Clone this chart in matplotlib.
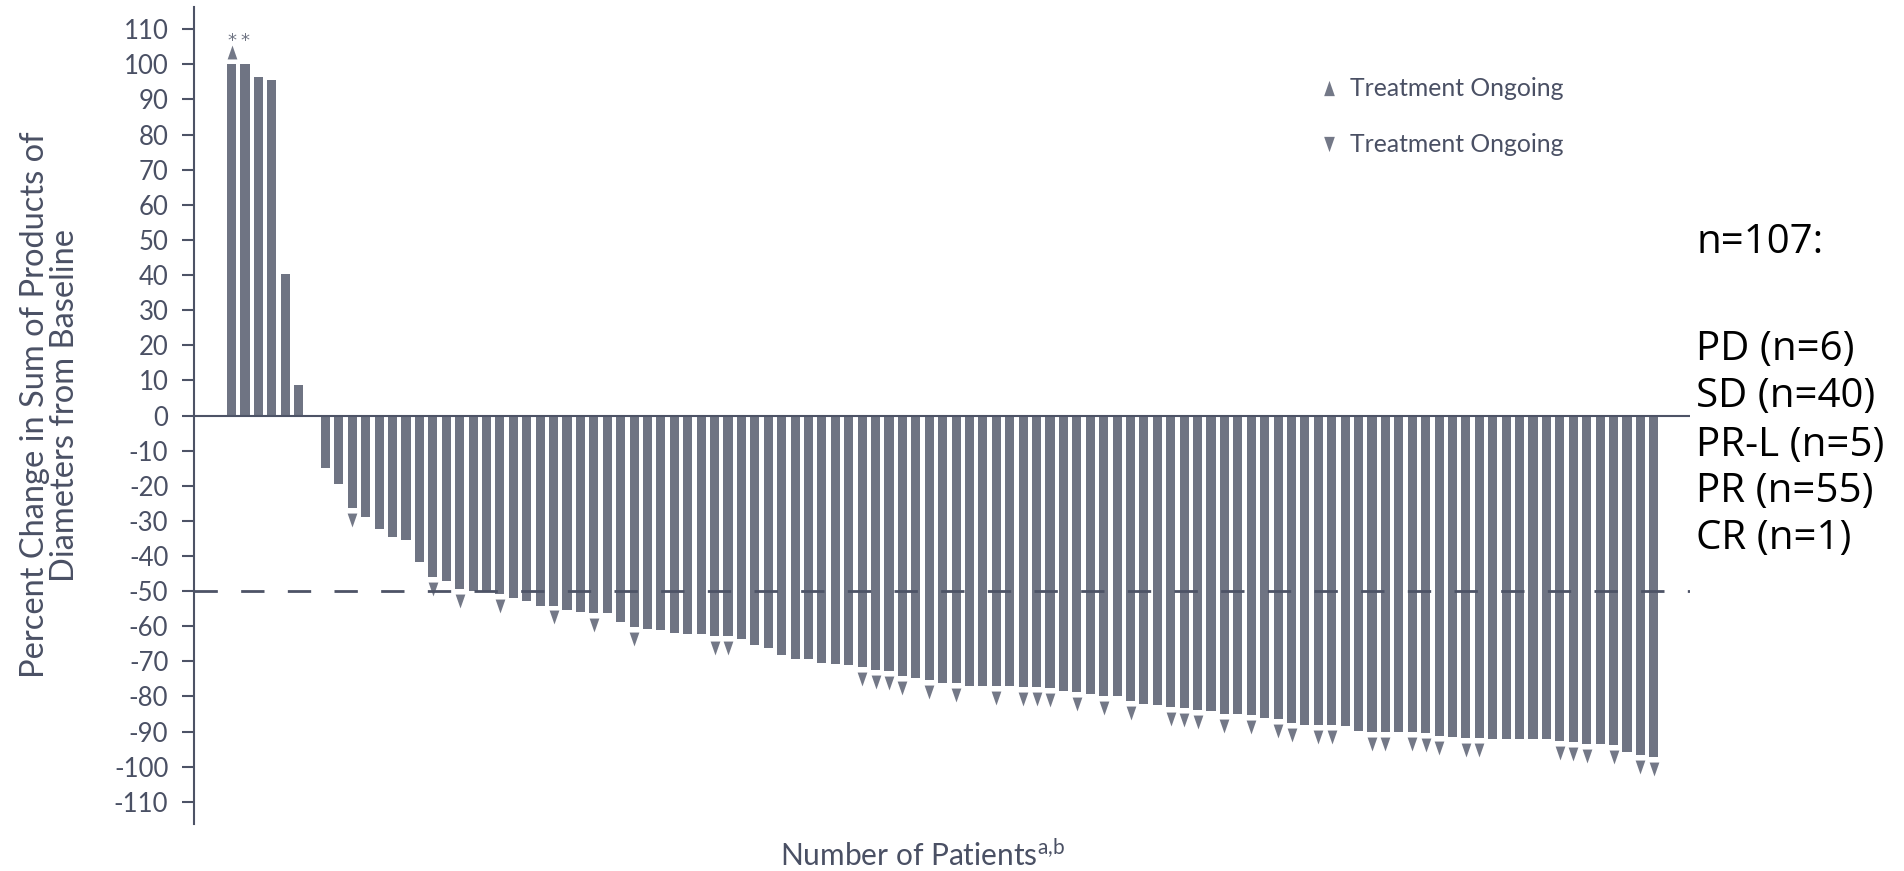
import matplotlib.pyplot as plt
import numpy as np

plt.rcParams['font.family'] = ['Lato', 'DejaVu Sans']
plt.rcParams['mathtext.fontset'] = 'custom'
plt.rcParams['mathtext.rm'] = 'Lato'

# 每位患者的肿瘤变化百分比 (按瀑布图顺序)
pct_change = [
    100, 100, 96.4, 95.6, 40.2, 8.6, 0,
    -15.0, -19.5, -26.4, -28.8, -32.4, -34.5, -35.4, -41.6, -45.9, -47.0,
    -49.5, -49.9, -50.0, -50.7, -51.9, -52.9, -54.1, -54.1, -55.3, -55.9,
    -56.2, -56.3, -58.8, -60.3, -60.8, -61.1, -61.9, -62.2, -62.2, -62.7,
    -62.7, -63.6, -65.4, -66.3, -68.3, -69.2, -69.2, -70.5, -70.7, -70.9,
    -71.7, -72.4, -72.8, -74.3, -74.7, -75.4, -76.2, -76.2, -76.9, -77.1,
    -77.1, -77.1, -77.3, -77.4, -77.6, -78.5, -78.8, -79.2, -80.0, -80.0,
    -81.2, -82.2, -82.3,
    -82.9, -83.2, -83.8, -84.1, -84.9, -85.1, -85.3, -86.0, -86.3, -87.6,
    -88.1, -88.1, -88.2, -88.4, -89.8, -90.0, -90.0, -90.0, -90.1, -90.3,
    -91.2, -91.4, -91.7, -91.7, -92.2, -92.2, -92.2, -92.2, -92.2, -92.8,
    -92.9, -93.4, -93.4, -93.8, -95.9, -96.6, -97.2,
]

# 治疗仍在进行 (1 = 有三角标记)
ongoing = [
    1, 0, 0, 0, 0, 0, 0,
    0, 0, 1, 0, 0, 0, 0, 0, 1, 0,
    1, 0, 0, 1, 0, 0, 0, 1, 0, 0,
    1, 0, 0, 1, 0, 0, 0, 0, 0, 1,
    1, 0, 0, 0, 0, 0, 0, 0, 0, 0,
    1, 1, 1, 1, 0, 1, 0, 1, 0, 0,
    1, 0, 1, 1, 1, 0, 1, 0, 1, 0,
    1, 0, 0,
    1, 1, 1, 0, 1, 0, 1, 0, 1, 1,
    0, 1, 1, 0, 0, 1, 1, 0, 1, 1,
    1, 0, 1, 1, 0, 0, 0, 0, 0, 1,
    1, 1, 0, 1, 0, 1, 1,
]

# 超过100%的患者 (标 **)
over_100 = [0, 1]

yticks = list(range(-110, 111, 10))
legend_labels = ['Treatment Ongoing', 'Treatment Ongoing']
summary_lines = ['n=107:', 'PD (n=6)', 'SD (n=40)', 'PR-L (n=5)', 'PR (n=55)', 'CR (n=1)']

bar_color = '#6f7483'
line_color = '#4d5366'
text_color = '#4a5064'

W, H = 1904, 871
fig = plt.figure(figsize=(W / 100, H / 100), dpi=100)
# 坐标轴位置 (像素换算)
left_px, right_px, top_px, bot_px = 194, 1690, 7, 824
ax = fig.add_axes([left_px / W, 1 - bot_px / H, (right_px - left_px) / W, (bot_px - top_px) / H])

x = np.arange(len(pct_change))
vals = np.array(pct_change)
ax.bar(x, vals, width=0.68, color=bar_color, zorder=2)

# 三角标记
tri_down = [(-0.7, 1), (0.7, 1), (0, -1)]
tri_up = [(-0.7, -1), (0.7, -1), (0, 1)]
on = np.array(ongoing) == 1
neg = on & (vals < 0)
pos = on & (vals > 0)
ax.plot(x[neg], vals[neg] - 3.4, linestyle='none', marker=tri_down, markersize=10,
        color='#737887', markeredgewidth=0, zorder=3)
ax.plot(x[pos], vals[pos] + 3.6, linestyle='none', marker=tri_up, markersize=10,
        color='#737887', markeredgewidth=0, zorder=3)
for i in over_100:
    ax.text(i, 106.5, '*', ha='center', va='center', fontsize=13, color='#6f7483',
            family='DejaVu Sans')

# 零线 和 -50% 虚线
ax.axhline(0, color=line_color, lw=1.5, zorder=4)
ax.axhline(-50, color=line_color, lw=2.0, linestyle=(0, (8.4, 8.4)), zorder=4)

ax.set_xlim(-2.8, 108.7)
ax.set_ylim(-116.3, 116.3)
ax.set_yticks(yticks)
ax.set_yticklabels([str(t) for t in yticks])
ax.set_xticks([])
for s in ['top', 'right', 'bottom']:
    ax.spines[s].set_visible(False)
ax.spines['left'].set_color(line_color)
ax.spines['left'].set_linewidth(1.5)
ax.tick_params(axis='y', direction='out', length=8.5, width=1.5, color=line_color,
               labelsize=18.5, labelcolor=text_color, pad=10)

fig.text(50 / W, 1 - 405 / H, 'Percent Change in Sum of Products of\nDiameters from Baseline',
         rotation=90, ha='center', va='center', multialignment='center',
         fontsize=23.5, color=text_color, linespacing=1.0)
fig.text(923 / W, 1 - 855 / H, 'Number of Patients$^{\\mathrm{a{,}b}}$', ha='center', va='center',
         fontsize=21.5, color=text_color)

# 图例
leg_y = [88, 144]
leg_marker = [tri_up, tri_down]
for yy, mk, lab in zip(leg_y, leg_marker, legend_labels):
    fig.lines.append(plt.Line2D([1329 / W], [1 - yy / H], marker=mk, markersize=11, color='#737887',
                                markeredgewidth=0, linestyle='none', transform=fig.transFigure))
    fig.text(1350 / W, 1 - yy / H, lab, ha='left', va='center', fontsize=17.8, color=text_color)

# 右侧说明文字
summary_y = [243, 350, 397, 446, 492, 539]
for yy, line in zip(summary_y, summary_lines):
    fig.text(1696 / W, 1 - yy / H, line, ha='left', va='center',
             fontsize=29, color='black', family=['Open Sans', 'DejaVu Sans'])

fig.savefig('out.png', dpi=100)
plt.close()
